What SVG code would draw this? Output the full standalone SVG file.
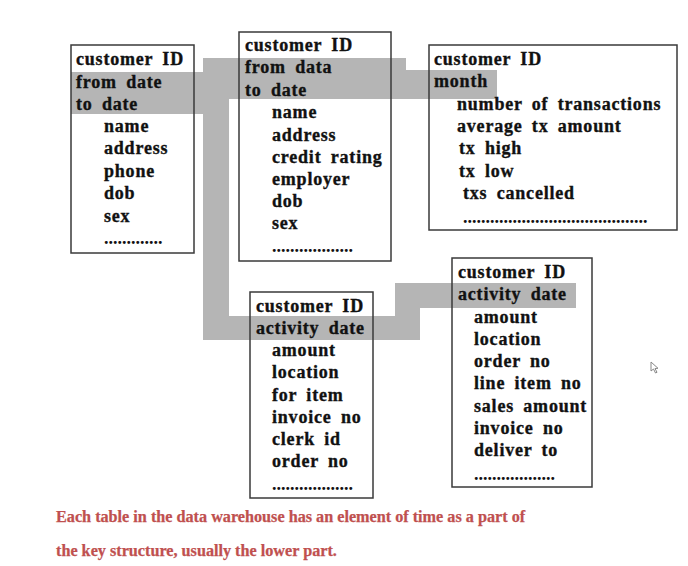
<svg xmlns="http://www.w3.org/2000/svg" width="688" height="566" viewBox="0 0 688 566">
<style>
  .box { fill: none; stroke: #3a3a3a; stroke-width: 1.5; }
  .t { font-family: "Liberation Serif", "Times New Roman", serif; font-weight: bold; font-size: 18px; letter-spacing: 0.8px; word-spacing: 4px; fill: #111; stroke: #111; stroke-width: 0.35px; }
  .dots { font-family: "Liberation Serif", "Times New Roman", serif; font-weight: bold; font-size: 18px; letter-spacing: 0px; fill: #111; }
  .cap { font-family: "Liberation Serif", "Times New Roman", serif; font-weight: bold; font-size: 16.2px; fill: #c0504f; stroke: #c0504f; stroke-width: 0.25px; }
  .band { fill: #b5b5b5; stroke: none; }
</style>
<rect width="688" height="566" fill="#ffffff"/>
<g id="connectors">
  <path class="band" d="M71,72 H203 V58 H406 V70 H497 V99 H229 V316 H395 V283 H576 V308 H420 V340 H203 V114 H71 Z"/>
</g>
<g id="customer-table">
  <rect class="box" x="71" y="45" width="123" height="208"/>
  <text class="t" x="76" y="65">customer ID</text>
  <text class="t" x="76" y="88">from date</text>
  <text class="t" x="76" y="110">to date</text>
  <text class="t" x="104" y="132">name</text>
  <text class="t" x="104" y="154">address</text>
  <text class="t" x="104" y="177">phone</text>
  <text class="t" x="104" y="199">dob</text>
  <text class="t" x="104" y="222">sex</text>
  <text class="dots" x="104" y="244">.............</text>
</g>
<g id="customer-history-table">
  <rect class="box" x="239" y="32" width="152" height="229"/>
  <text class="t" x="245" y="51">customer ID</text>
  <text class="t" x="245" y="73">from data</text>
  <text class="t" x="245" y="96">to date</text>
  <text class="t" x="272" y="118">name</text>
  <text class="t" x="272" y="141">address</text>
  <text class="t" x="272" y="163">credit rating</text>
  <text class="t" x="272" y="185">employer</text>
  <text class="t" x="272" y="207">dob</text>
  <text class="t" x="272" y="229">sex</text>
  <text class="dots" x="272" y="252">..................</text>
</g>
<g id="monthly-summary-table">
  <rect class="box" x="429" y="45" width="248" height="185"/>
  <text class="t" x="434" y="65">customer ID</text>
  <text class="t" x="434" y="87">month</text>
  <text class="t" x="457" y="110">number of transactions</text>
  <text class="t" x="457" y="132">average tx amount</text>
  <text class="t" x="459" y="154">tx high</text>
  <text class="t" x="459" y="177">tx low</text>
  <text class="t" x="463" y="199">txs cancelled</text>
  <text class="dots" x="463" y="223">.........................................</text>
</g>
<g id="activity-table">
  <rect class="box" x="250" y="292" width="123" height="206"/>
  <text class="t" x="256" y="312">customer ID</text>
  <text class="t" x="256" y="334">activity date</text>
  <text class="t" x="272" y="356">amount</text>
  <text class="t" x="272" y="378">location</text>
  <text class="t" x="272" y="401">for item</text>
  <text class="t" x="272" y="423">invoice no</text>
  <text class="t" x="272" y="445">clerk id</text>
  <text class="t" x="272" y="467">order no</text>
  <text class="dots" x="272" y="490">..................</text>
</g>
<g id="sales-activity-table">
  <rect class="box" x="452" y="258" width="140" height="229"/>
  <text class="t" x="458" y="278">customer ID</text>
  <text class="t" x="458" y="300">activity date</text>
  <text class="t" x="474" y="323">amount</text>
  <text class="t" x="474" y="345">location</text>
  <text class="t" x="474" y="367">order no</text>
  <text class="t" x="474" y="389">line item no</text>
  <text class="t" x="474" y="412">sales amount</text>
  <text class="t" x="474" y="434">invoice no</text>
  <text class="t" x="474" y="456">deliver to</text>
  <text class="dots" x="474" y="480">..................</text>
</g>
<g id="cursor">
  <path d="M651,362 L651,371 L653.5,369 L655.5,373 L657,372.3 L655,368.5 L658,368.3 Z" fill="#ffffff" stroke="#888" stroke-width="1"/>
</g>
<g id="caption">
  <text class="cap" x="56" y="522">Each table in the data warehouse has an element of time as a part of</text>
  <text class="cap" x="56" y="556">the key structure, usually the lower part.</text>
</g>
</svg>
